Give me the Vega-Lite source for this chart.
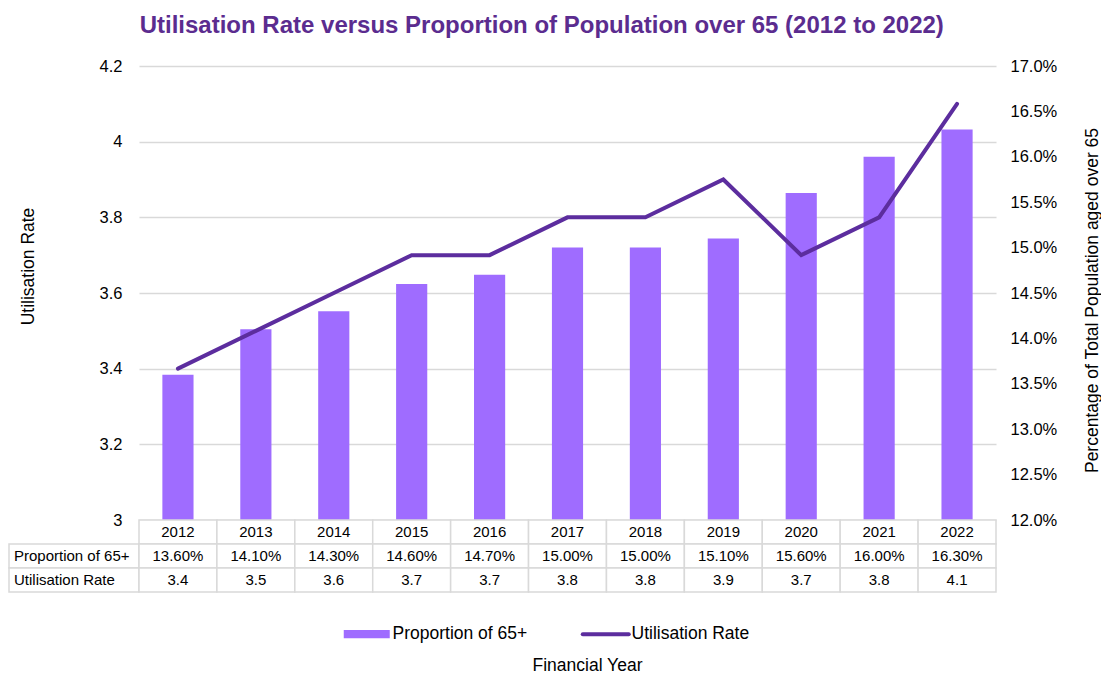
{
  "$schema": "https://vega.github.io/schema/vega-lite/v6.json",
  "padding": {"left": 8, "top": 14, "right": 4, "bottom": 4},
  "config": {
    "view": {"stroke": null},
    "font": "Liberation Sans",
    "axis": {"labelColor": "#000", "titleColor": "#000", "titleFontWeight": "normal", "labelFont": "Liberation Sans", "titleFont": "Liberation Sans"},
    "legend": {"labelFont": "Liberation Sans"}
  },
  "title": {
    "text": "Utilisation Rate versus Proportion of Population over 65 (2012 to 2022)",
    "font": "Liberation Sans",
    "fontSize": 24,
    "fontWeight": "bold",
    "color": "#5B2C8F",
    "anchor": "middle",
    "frame": "bounds",
    "dx": -13,
    "offset": 20
  },
  "datasets": {
    "main": [
      {"year": "2012", "prop": 0.136, "util": 3.4},
      {"year": "2013", "prop": 0.141, "util": 3.5},
      {"year": "2014", "prop": 0.143, "util": 3.6},
      {"year": "2015", "prop": 0.146, "util": 3.7},
      {"year": "2016", "prop": 0.147, "util": 3.7},
      {"year": "2017", "prop": 0.150, "util": 3.8},
      {"year": "2018", "prop": 0.150, "util": 3.8},
      {"year": "2019", "prop": 0.151, "util": 3.9},
      {"year": "2020", "prop": 0.156, "util": 3.7},
      {"year": "2021", "prop": 0.160, "util": 3.8},
      {"year": "2022", "prop": 0.163, "util": 4.1}
    ]
  },
  "columns": 2,
  "spacing": 0,
  "bounds": "flush",
  "resolve": {"scale": {"color": "independent"}, "legend": {"color": "independent"}},
  "concat": [
    {
      "width": 130,
      "height": 454,
      "data": {"values": []},
      "mark": "point"
    },
    {
      "width": 857,
      "height": 454,
      "data": {"name": "main"},
      "encoding": {
        "x": {"field": "year", "type": "nominal", "scale": {"paddingInner": 0, "paddingOuter": 0}, "axis": null}
      },
      "layer": [
        {
          "mark": {"type": "bar", "width": {"band": 0.4}},
          "encoding": {
            "y": {
              "field": "prop", "type": "quantitative",
              "scale": {"domain": [0.12, 0.17], "zero": false, "nice": false},
              "axis": {
                "orient": "right",
                "values": [0.12, 0.125, 0.13, 0.135, 0.14, 0.145, 0.15, 0.155, 0.16, 0.165, 0.17],
                "format": ".1%",
                "grid": false, "domain": false, "ticks": false,
                "labelFontSize": 16.5, "labelPadding": 14,
                "title": "Percentage of Total Population aged over 65",
                "titleFontSize": 17.5, "titlePadding": 45, "titleAngle": 270, "titleY": 234
              }
            },
            "y2": {"datum": 0.12},
            "color": {
              "datum": "Proportion of 65+",
              "type": "nominal",
              "scale": {"domain": ["Proportion of 65+", "Utilisation Rate"], "range": ["#9F6CFF", "#5C2D9E"]},
              "legend": {
                "title": null,
                "orient": "none",
                "direction": "horizontal",
                "legendX": 219,
                "legendY": 559,
                "padding": 0,
                "symbolSize": 2116,
                "labelFontSize": 17.5,
                "labelColor": "#000",
                "labelOffset": 17,
                "columnPadding": 46,
                "encode": {
                  "symbols": {
                    "update": {
                      "shape": {"signal": "datum.value === 'Utilisation Rate' ? 'M-1,0H1' : 'M-1,-0.18H1V0.18H-1Z'"},
                      "fill": {"signal": "datum.value === 'Utilisation Rate' ? 'transparent' : '#9F6CFF'"},
                      "stroke": {"signal": "datum.value === 'Utilisation Rate' ? '#5C2D9E' : 'transparent'"},
                      "strokeWidth": {"signal": "datum.value === 'Utilisation Rate' ? 4 : 0"},
                      "strokeCap": {"value": "round"},
                      "opacity": {"value": 1},
                      "fillOpacity": {"value": 1},
                      "strokeOpacity": {"value": 1}
                    }
                  }
                }
              }
            }
          }
        },
        {
          "mark": {"type": "line", "strokeWidth": 4, "strokeCap": "round"},
          "encoding": {
            "y": {
              "field": "util", "type": "quantitative",
              "scale": {"domain": [3, 4.2], "zero": false, "nice": false},
              "axis": {
                "orient": "left",
                "values": [3, 3.2, 3.4, 3.6, 3.8, 4, 4.2],
                "format": "~g",
                "grid": true, "gridColor": "#D9D9D9", "gridWidth": 1.5,
                "domain": false, "ticks": false,
                "labelFontSize": 16.5, "labelPadding": 17,
                "title": "Utilisation Rate",
                "titleFontSize": 17.5, "titlePadding": 62, "titleY": 200
              }
            },
            "color": {"datum": "Utilisation Rate", "type": "nominal"}
          }
        }
      ],
      "resolve": {"scale": {"y": "independent"}}
    },
    {
      "width": 130,
      "height": 72,
      "data": {"values": [{"row": "Proportion of 65+"}, {"row": "Utilisation Rate"}]},
      "encoding": {
        "y": {"field": "row", "type": "nominal", "scale": {"domain": ["Year", "Proportion of 65+", "Utilisation Rate"], "paddingInner": 0, "paddingOuter": 0}, "axis": null},
        "x": {"datum": 0, "type": "quantitative", "scale": {"domain": [0, 1]}, "axis": null}
      },
      "layer": [
        {"mark": {"type": "rect", "fill": "#fff", "stroke": "#D9D9D9", "strokeWidth": 1.5}, "encoding": {"x2": {"datum": 1}}},
        {"mark": {"type": "text", "align": "left", "dx": 5, "fontSize": 15, "color": "#000"}, "encoding": {"text": {"field": "row"}}}
      ]
    },
    {
      "width": 857,
      "height": 72,
      "data": {"name": "main"},
      "encoding": {
        "x": {
          "field": "year", "type": "nominal",
          "scale": {"paddingInner": 0, "paddingOuter": 0},
          "axis": {"orient": "bottom", "domain": false, "ticks": false, "labels": false, "title": "Financial Year", "titleFontSize": 17.5, "titlePadding": 64, "titleX": 448}
        }
      },
      "layer": [
        {"mark": {"type": "rect", "fill": "#fff", "stroke": "#D9D9D9", "strokeWidth": 1.5}, "encoding": {"y": {"datum": "Year", "type": "nominal", "scale": {"domain": ["Year", "Proportion of 65+", "Utilisation Rate"], "paddingInner": 0, "paddingOuter": 0}, "axis": null}}},
        {"mark": {"type": "rect", "fill": "#fff", "stroke": "#D9D9D9", "strokeWidth": 1.5}, "encoding": {"y": {"datum": "Proportion of 65+", "type": "nominal"}}},
        {"mark": {"type": "rect", "fill": "#fff", "stroke": "#D9D9D9", "strokeWidth": 1.5}, "encoding": {"y": {"datum": "Utilisation Rate", "type": "nominal"}}},
        {"mark": {"type": "text", "fontSize": 15, "color": "#000"}, "encoding": {"y": {"datum": "Year", "type": "nominal"}, "text": {"field": "year"}}},
        {"mark": {"type": "text", "fontSize": 15, "color": "#000"}, "encoding": {"y": {"datum": "Proportion of 65+", "type": "nominal"}, "text": {"field": "prop", "type": "quantitative", "format": ".2%"}}},
        {"mark": {"type": "text", "fontSize": 15, "color": "#000"}, "encoding": {"y": {"datum": "Utilisation Rate", "type": "nominal"}, "text": {"field": "util", "type": "quantitative", "format": ".1f"}}}
      ]
    }
  ]
}
